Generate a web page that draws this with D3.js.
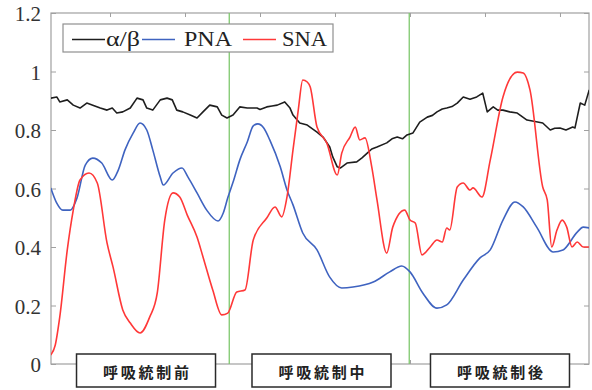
<!DOCTYPE html>
<html><head><meta charset="utf-8">
<script src="https://cdn.jsdelivr.net/npm/d3@7"></script>
<style>html,body{margin:0;padding:0;background:#fff;}svg{display:block;}</style>
</head><body>
<svg id="chart" width="592" height="390"></svg>
<script>
// ---- data ----
const yTicks = [0, 0.2, 0.4, 0.6, 0.8, 1, 1.2];
const yTickLabels = ["0", "0.2", "0.4", "0.6", "0.8", "1", "1.2"];
const xTicks = [100, 200, 300, 400, 500, 600, 700];
const xDomain = [21.3, 738.7];
const phaseBoundaries = [259, 499];
const phaseLabels = ["呼吸統制前", "呼吸統制中", "呼吸統制後"];
const phaseCenters = [148, 382, 620];
const seriesNames = ["α/β", "PNA", "SNA"];

const alphaBetaT = [21,29,33,43,51,60,69,77,87,96,103,109,117,127,136,144,149,157,167,176,183,189,197,207,216,224,233,243,249,256,264,273,283,296,300,309,316,323,333,340,344,353,363,376,384,393,397,403,407,416,429,436,443,449,456,469,476,483,490,496,504,513,523,530,536,543,549,556,563,571,580,589,597,603,611,617,624,633,643,650,656,665,677,687,693,700,708,717,720,727,733,739];
const alphaBetaV = [0.909,0.913,0.896,0.903,0.885,0.875,0.892,0.885,0.875,0.868,0.875,0.858,0.862,0.875,0.909,0.903,0.875,0.868,0.903,0.909,0.903,0.868,0.862,0.851,0.841,0.862,0.885,0.879,0.851,0.841,0.851,0.879,0.875,0.875,0.870,0.879,0.882,0.885,0.896,0.875,0.851,0.824,0.817,0.793,0.776,0.742,0.708,0.674,0.670,0.687,0.691,0.705,0.721,0.735,0.742,0.756,0.770,0.776,0.770,0.783,0.790,0.827,0.844,0.850,0.862,0.872,0.875,0.880,0.892,0.913,0.905,0.913,0.926,0.862,0.879,0.868,0.868,0.862,0.858,0.845,0.834,0.830,0.824,0.800,0.806,0.807,0.800,0.810,0.807,0.892,0.885,0.937];

const pnaT = [21,29,37,47,56,67,77,89,103,111,120,131,140,149,157,167,171,184,196,204,216,229,244,251,257,265,273,283,291,297,305,313,327,336,344,357,376,393,409,424,451,473,489,500,517,536,549,571,593,607,624,640,651,669,691,704,723,731,739];
const pnaV = [0.602,0.550,0.526,0.526,0.568,0.680,0.704,0.687,0.629,0.663,0.732,0.790,0.824,0.800,0.732,0.639,0.612,0.653,0.670,0.639,0.585,0.526,0.489,0.516,0.568,0.629,0.697,0.759,0.814,0.821,0.807,0.766,0.674,0.595,0.544,0.448,0.390,0.297,0.260,0.263,0.280,0.315,0.335,0.315,0.243,0.191,0.202,0.287,0.362,0.390,0.492,0.554,0.537,0.468,0.383,0.390,0.451,0.468,0.465];

const snaT = [21,27,33,43,51,60,72,83,96,104,117,127,140,153,163,173,184,193,203,216,224,237,249,257,269,280,291,309,320,329,336,344,351,357,363,367,376,389,403,409,420,427,433,440,449,456,469,477,493,500,507,516,527,536,543,549,553,563,571,580,584,596,607,624,643,651,660,677,683,689,696,703,709,716,723,731,739];
const snaV = [0.031,0.065,0.161,0.390,0.526,0.629,0.653,0.619,0.414,0.332,0.185,0.140,0.106,0.161,0.243,0.492,0.585,0.571,0.509,0.434,0.366,0.253,0.168,0.174,0.246,0.253,0.424,0.499,0.537,0.503,0.571,0.732,0.868,0.971,0.964,0.947,0.810,0.756,0.646,0.721,0.776,0.810,0.766,0.773,0.674,0.561,0.379,0.468,0.526,0.492,0.482,0.373,0.400,0.424,0.417,0.465,0.458,0.605,0.619,0.595,0.602,0.571,0.697,0.913,0.998,0.995,0.937,0.605,0.561,0.400,0.458,0.492,0.468,0.400,0.417,0.400,0.400];

// ---- layout ----
const W = 592, H = 390;
const m = {left: 51, top: 13, right: 3, bottom: 26};
const pw = W - m.left - m.right, ph = H - m.top - m.bottom;
const svg = d3.select("#chart");
const g = svg.append("g").attr("transform", `translate(${m.left},${m.top})`);

const x = d3.scaleLinear().domain(xDomain).range([0, pw]);
const y = d3.scaleLinear().domain([0, 1.2]).range([ph, 0]);

const axisColor = "#a0a0a0";
// frame
g.append("rect").attr("x", 0).attr("y", 0).attr("width", pw).attr("height", ph)
  .attr("fill", "none").attr("stroke", axisColor).attr("stroke-width", 1.2);

// y axes (left with labels, right ticks only)
const yAxisL = d3.axisLeft(y).tickValues(yTicks).tickSize(-5).tickPadding(10)
  .tickFormat((d, i) => yTickLabels[i]);
const gl = g.append("g").call(yAxisL);
gl.select(".domain").remove();
gl.selectAll(".tick line").attr("stroke", axisColor);
gl.selectAll(".tick text").attr("font-family", "'Liberation Serif', 'Times New Roman', serif")
  .attr("font-size", 21).attr("fill", "#333").attr("dy", "0.36em");

const gr = g.append("g").attr("transform", `translate(${pw},0)`)
  .call(d3.axisRight(y).tickValues(yTicks).tickSize(-5).tickFormat(""));
gr.select(".domain").remove();
gr.selectAll(".tick line").attr("stroke", axisColor);

const gt = g.append("g").call(d3.axisTop(x).tickValues(xTicks).tickSize(-4).tickFormat(""));
gt.select(".domain").remove();
gt.selectAll(".tick line").attr("stroke", axisColor);

const gb = g.append("g").attr("transform", `translate(0,${ph})`)
  .call(d3.axisBottom(x).tickValues(xTicks).tickSize(-4).tickFormat(""));
gb.select(".domain").remove();
gb.selectAll(".tick line").attr("stroke", axisColor);

// phase boundary lines
g.selectAll(".phase").data(phaseBoundaries).join("line")
  .attr("x1", d => x(d)).attr("x2", d => x(d)).attr("y1", 0).attr("y2", ph)
  .attr("stroke", "#7ec86e").attr("stroke-width", 1.3);

// curves
g.append("clipPath").attr("id", "clip").append("rect").attr("width", pw).attr("height", ph);
const series = [
  {name: seriesNames[0], t: alphaBetaT, v: alphaBetaV, color: "#1e1e1e", curve: d3.curveLinear},
  {name: seriesNames[1], t: pnaT, v: pnaV, color: "#3f63c0", curve: d3.curveMonotoneX},
  {name: seriesNames[2], t: snaT, v: snaV, color: "#ff3838", curve: d3.curveMonotoneX}
];
series.forEach(s => {
  const pts = s.t.map((t, i) => [t, s.v[i]]);
  g.append("path").datum(pts).attr("clip-path", "url(#clip)")
    .attr("fill", "none").attr("stroke", s.color).attr("stroke-width", 1.6)
    .attr("stroke-linejoin", "round")
    .attr("d", d3.line().x(d => x(d[0])).y(d => y(d[1])).curve(s.curve));
});

// legend
const lg = svg.append("g");
lg.append("rect").attr("x", 63).attr("y", 24).attr("width", 270).attr("height", 28)
  .attr("fill", "#fff").attr("stroke", "#909090").attr("stroke-width", 1.2);
const legendItems = [
  {lx: 72, tx: 106, tl: 34},
  {lx: 142, tx: 184, tl: 48},
  {lx: 243, tx: 282, tl: 45}
];
series.forEach((s, i) => {
  const it = legendItems[i];
  lg.append("line").attr("x1", it.lx).attr("x2", it.lx + 33).attr("y1", 39.5).attr("y2", 39.5)
    .attr("stroke", s.color).attr("stroke-width", 1.6);
  lg.append("text").attr("x", it.tx).attr("y", 45.5).text(s.name)
    .attr("font-family", "'Liberation Serif', 'Times New Roman', serif").attr("font-size", 20)
    .attr("fill", "#222").attr("textLength", it.tl).attr("lengthAdjust", "spacingAndGlyphs");
});

// phase label boxes
const bw = 139, bh = 33, by = 354;
phaseLabels.forEach((lab, i) => {
  const cx = m.left + x(phaseCenters[i]);
  svg.append("rect").attr("x", cx - bw / 2).attr("y", by).attr("width", bw).attr("height", bh)
    .attr("fill", "#fff").attr("stroke", "#2a2a2a").attr("stroke-width", 1.5);
  svg.append("text").attr("x", cx).attr("y", by + bh / 2 + 1).attr("text-anchor", "middle")
    .attr("dominant-baseline", "central")
    .attr("font-family", "'Noto Sans CJK JP', sans-serif").attr("font-size", 15).attr("font-weight", 700)
    .attr("fill", "#222").attr("textLength", 86).attr("lengthAdjust", "spacing").text(lab);
});
</script>
</body></html>
